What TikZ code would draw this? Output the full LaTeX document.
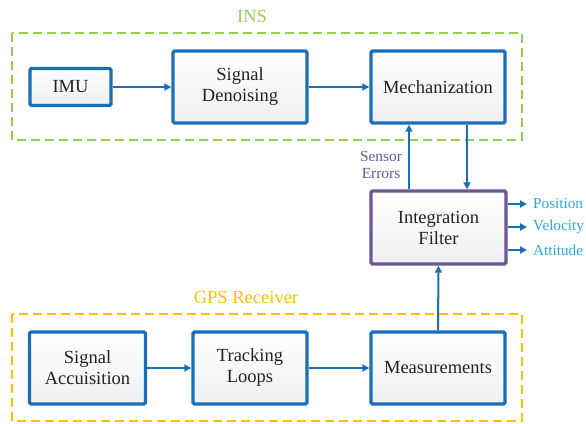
\documentclass[tikz,border=0pt]{standalone}
\usepackage{fontspec}
\setmainfont{Liberation Serif}
\usetikzlibrary{arrows.meta,positioning}
\definecolor{boxblue}{HTML}{1A6FBA}
\definecolor{insgreen}{HTML}{92D050}
\definecolor{gpsyellow}{HTML}{FFC000}
\definecolor{ifpurple}{HTML}{6E5494}
\definecolor{outcyan}{HTML}{29A9E0}
\definecolor{txtdark}{HTML}{222222}
\definecolor{boxgray}{HTML}{EEEFF1}
\tikzset{
  blk/.style={draw=boxblue, line width=3.4pt, rounded corners=1.5pt,
    top color=white, bottom color=boxgray, text=txtdark,
    font=\fontsize{18.5}{21}\selectfont, align=center, inner sep=0pt},
  ifblk/.style={blk, draw=ifpurple},
  conn/.style={draw=boxblue, line width=2pt, -{Triangle[length=7pt,width=7pt]}},
  grp/.style={line width=2.6pt, dash pattern=on 9pt off 5pt},
  grplbl/.style={font=\fontsize{18.5}{20}\selectfont},
  outlbl/.style={text=outcyan, font=\fontsize{15.2}{17}\selectfont, anchor=west, inner sep=0pt},
  errlbl/.style={text=ifpurple, font=\fontsize{15.4}{16.5}\selectfont, align=center, inner sep=0pt},
}
\begin{document}
\begin{tikzpicture}[x=1pt,y=-1pt]
\useasboundingbox (0,0) rectangle (586,423);
% groups
\draw[grp, draw=insgreen] (12,33) rectangle (522,140);
\node[grplbl, text=insgreen] (inslbl) at (252,16) {INS};
\draw[grp, draw=gpsyellow] (12,314) rectangle (522,421);
\node[grplbl, text=gpsyellow] (gpslbl) at (246,297) {GPS Receiver};
% blocks
\node[blk, minimum width=81pt, minimum height=37pt] (imu) at (70.5,87) {IMU};
\node[blk, minimum width=134pt, minimum height=72pt] (den) at (240,87) {Signal\\Denoising};
\node[blk, minimum width=134pt, minimum height=72pt] (mech) at (438,87) {Mechanization};
\node[ifblk, minimum width=135pt, minimum height=73pt] (if) at (438.5,227.5) {Integration\\Filter};
\node[blk, minimum width=116pt, minimum height=72pt] (acq) at (87.5,368) {Signal\\Accuisition};
\node[blk, minimum width=114pt, minimum height=72pt] (trk) at (250,368) {Tracking\\Loops};
\node[blk, minimum width=134pt, minimum height=72pt] (meas) at (438,368) {Measurements};
% connectors
\draw[conn] (imu.east) -- (den.west);
\draw[conn] (den.east) -- (mech.west);
\draw[conn] (acq.east) -- (trk.west);
\draw[conn] (trk.east) -- (meas.west);
\draw[conn] (meas.north) -- (if.south);
\draw[conn] (mech.south -| 467,0) -- (if.north -| 467,0);
\draw[conn] (if.north -| 409,0) -- (mech.south -| 409,0);
\node[errlbl] (err) at (381,165) {Sensor\\Errors};
% outputs
\coordinate (p1) at (527,204);
\coordinate (p2) at (527,227);
\coordinate (p3) at (527,250);
\draw[conn] (if.east |- p1) -- (p1);
\draw[conn] (if.east |- p2) -- (p2);
\draw[conn] (if.east |- p3) -- (p3);
\node[outlbl] (pos) at (533,204) {Position};
\node[outlbl] (vel) at (533,227) {Velocity};
\node[outlbl] (att) at (533,250) {Attitude};
\end{tikzpicture}
\end{document}
